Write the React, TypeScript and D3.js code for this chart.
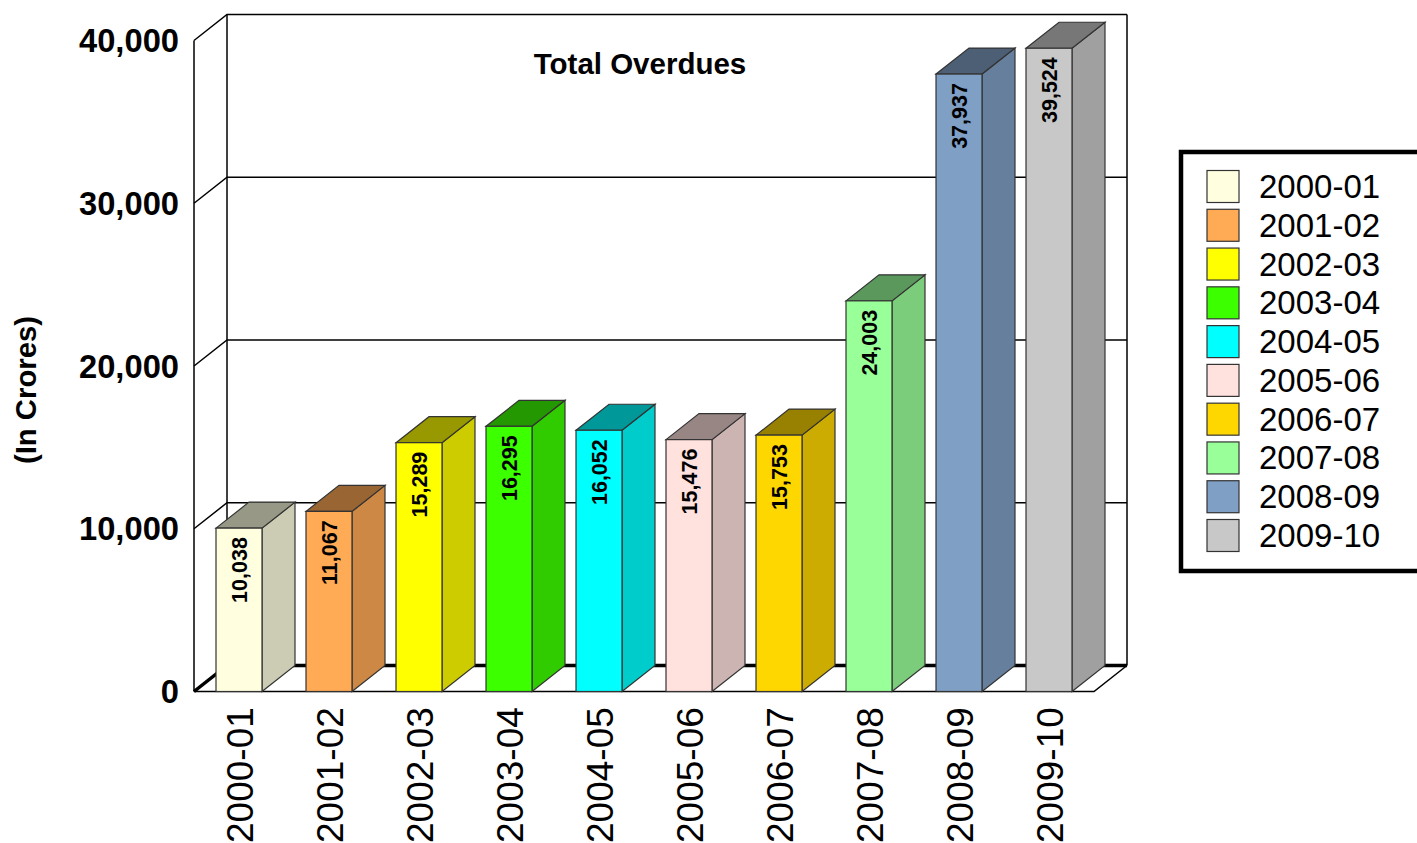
import React, { useEffect, useRef } from 'react';
import * as d3 from 'd3';

const years = ['2000-01', '2001-02', '2002-03', '2003-04', '2004-05', '2005-06', '2006-07', '2007-08', '2008-09', '2009-10'];
const overdues = [10038, 11067, 15289, 16295, 16052, 15476, 15753, 24003, 37937, 39524];
const barColors = ['#FFFFE0', '#FFAA55', '#FFFF00', '#3CFF00', '#00FFFF', '#FFE1DE', '#FFD700', '#99FF99', '#7F9FC4', '#C8C8C8'];
const yTicks = [0, 10000, 20000, 30000, 40000];

const FONT = '"Liberation Sans", Arial, sans-serif';

export default function App() {
  const svgRef = useRef<SVGSVGElement>(null);

  useEffect(() => {
    if (!svgRef.current) return;
    const svg = d3.select(svgRef.current);
    svg.selectAll('*').remove();

    // depth of the fake 3d box
    const dx = 33;
    const dy = -26;

    const x = d3.scaleBand<string>().domain(years).range([194, 1094]).paddingInner(0.489).paddingOuter(0.2445);
    const y = d3.scaleLinear().domain([0, 40000]).range([691.5, 40.5]);
    const fmt = d3.format(',');
    const line = d3.line();

    // walls
    const wall = svg.append('g').attr('fill', 'none').attr('stroke', '#000');
    yTicks.forEach((t) => {
      const yy = y(t);
      wall.append('path')
        .attr('d', line([[x.range()[0], yy], [x.range()[0] + dx, yy + dy], [x.range()[1] + dx, yy + dy]]))
        .attr('stroke-width', t === 0 ? 3.5 : 1.5);
    });
    wall.append('path').attr('stroke-width', 1.5)
      .attr('d', line([[194, y(0)], [194, y(40000)]]));
    wall.append('path').attr('stroke-width', 1.5)
      .attr('d', line([[194 + dx, y(0) + dy], [194 + dx, y(40000) + dy]]));
    wall.append('path').attr('stroke-width', 1.5)
      .attr('d', line([[1094 + dx, y(0) + dy], [1094 + dx, y(40000) + dy]]));
    // floor front edge
    wall.append('path').attr('stroke-width', 1.5)
      .attr('d', line([[194, y(0)], [1094, y(0)], [1094 + dx, y(0) + dy]]));

    // bars
    const bars = svg.append('g').selectAll('g').data(years).join('g');
    bars.each(function (yr, i) {
      const g = d3.select(this);
      const x0 = x(yr) as number;
      const x1 = x0 + x.bandwidth();
      const top = y(overdues[i]);
      const base = y(0);
      const col = barColors[i];
      const stroke = '#333';
      g.append('path')
        .attr('d', line([[x1, base], [x1 + dx, base + dy], [x1 + dx, top + dy], [x1, top]]) + 'Z')
        .attr('fill', d3.rgb(col).darker(0.62).formatHex())
        .attr('stroke', stroke).attr('stroke-width', 1.2);
      g.append('path')
        .attr('d', line([[x0, top], [x0 + dx, top + dy], [x1 + dx, top + dy], [x1, top]]) + 'Z')
        .attr('fill', d3.rgb(col).darker(1.45).formatHex())
        .attr('stroke', stroke).attr('stroke-width', 1.2);
      g.append('rect')
        .attr('x', x0).attr('y', top).attr('width', x.bandwidth()).attr('height', base - top)
        .attr('fill', col).attr('stroke', stroke).attr('stroke-width', 1.2);
      g.append('text')
        .attr('transform', `translate(${(x0 + x1) / 2 + 7.5},${top + 9}) rotate(-90)`)
        .attr('text-anchor', 'end')
        .attr('font-family', FONT).attr('font-weight', 700).attr('font-size', 21.5)
        .text(fmt(overdues[i]));
    });

    // axis labels
    svg.append('g').selectAll('text').data(yTicks).join('text')
      .attr('x', 179).attr('y', (d) => y(d) + 11.5)
      .attr('text-anchor', 'end')
      .attr('font-family', FONT).attr('font-weight', 700).attr('font-size', 32.7)
      .text((d) => fmt(d));

    svg.append('g').selectAll('text').data(years).join('text')
      .attr('transform', (d) => `translate(${(x(d) as number) + x.bandwidth() / 2 + 14},843) rotate(-90)`)
      .attr('font-family', FONT).attr('font-size', 37)
      .text((d) => d);

    svg.append('text')
      .attr('transform', 'translate(36,390) rotate(-90)')
      .attr('text-anchor', 'middle')
      .attr('font-family', FONT).attr('font-weight', 700).attr('font-size', 29.3)
      .text('(In Crores)');

    svg.append('text')
      .attr('x', 640).attr('y', 74).attr('text-anchor', 'middle')
      .attr('font-family', FONT).attr('font-weight', 700).attr('font-size', 29.5)
      .text('Total Overdues');

    // legend
    svg.append('rect')
      .attr('x', 1181).attr('y', 152).attr('width', 300).attr('height', 419)
      .attr('fill', '#fff').attr('stroke', '#000').attr('stroke-width', 4.5);
    const ly = d3.scalePoint<string>().domain(years).range([186.5, 535.5]);
    const items = svg.append('g').selectAll('g').data(years).join('g');
    items.append('rect')
      .attr('x', 1207).attr('y', (d) => (ly(d) as number) - 16).attr('width', 32).attr('height', 32)
      .attr('fill', (_, i) => barColors[i]).attr('stroke', '#333').attr('stroke-width', 1.2);
    items.append('text')
      .attr('x', 1259).attr('y', (d) => (ly(d) as number) + 11.5)
      .attr('font-family', FONT).attr('font-size', 33)
      .text((d) => d);
  }, []);

  return (
    <svg
      ref={svgRef}
      width={1417}
      height={843}
      viewBox="0 0 1417 843"
      style={{ position: 'absolute', left: 0, top: 0, background: '#fff' }}
    />
  );
}
